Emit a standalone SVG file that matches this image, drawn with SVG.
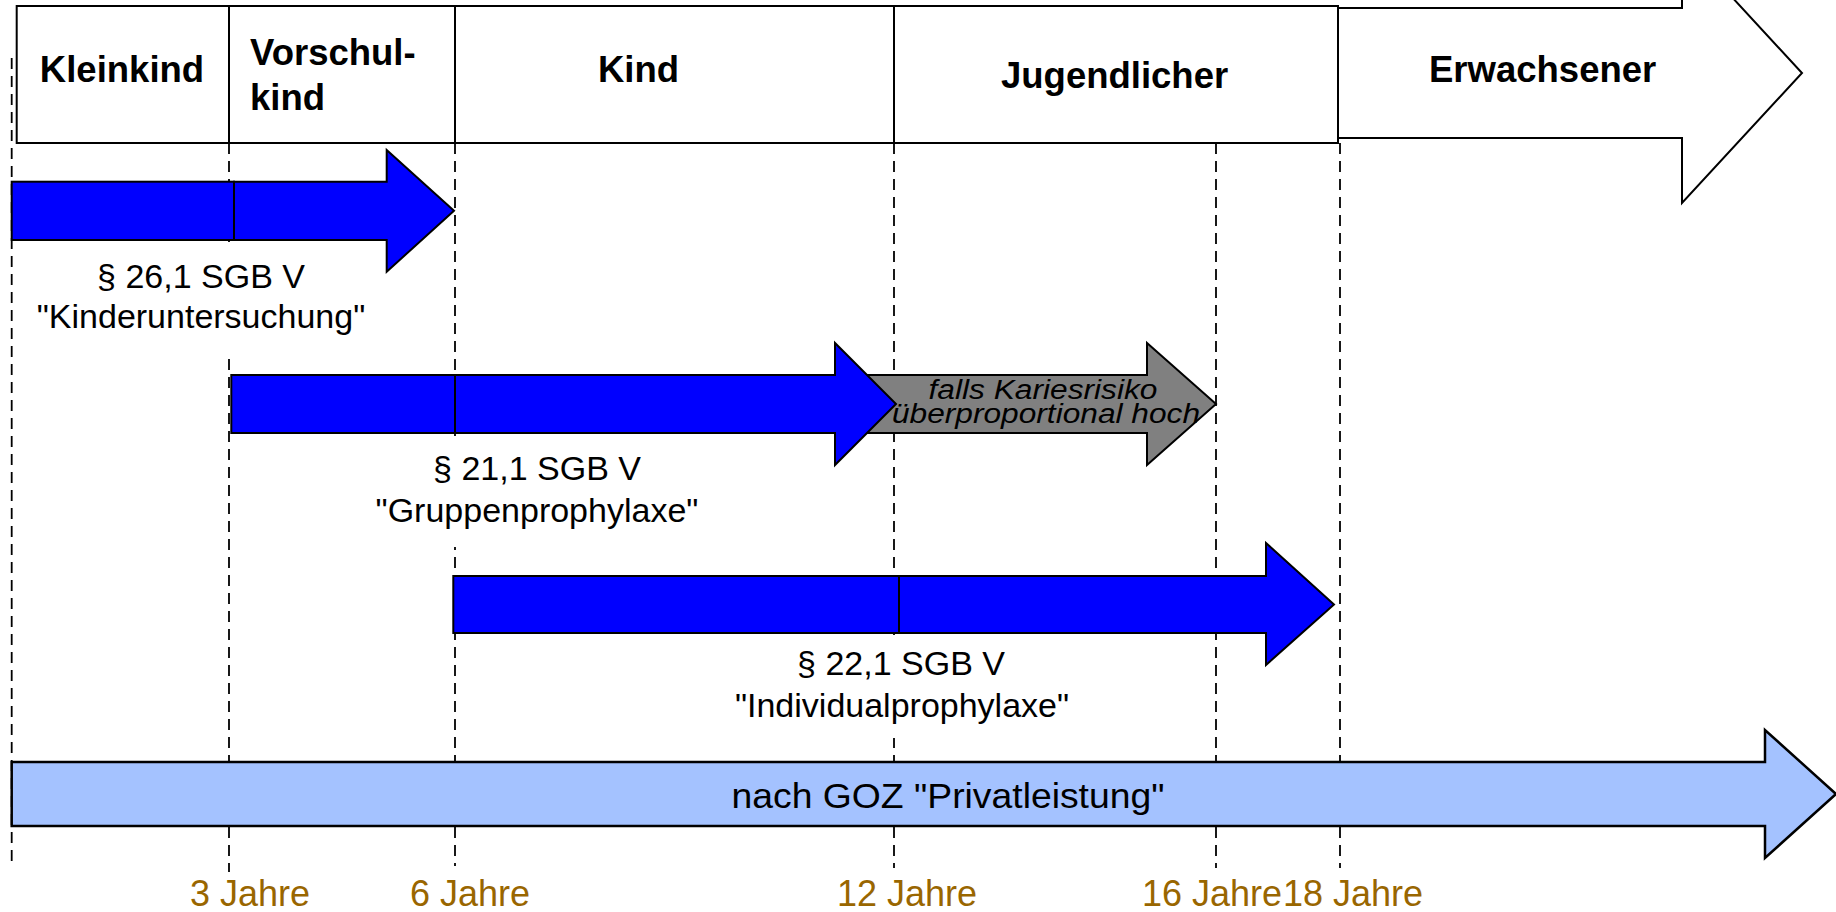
<svg xmlns="http://www.w3.org/2000/svg" width="1836" height="912" viewBox="0 0 1836 912">
<style>
.dash{stroke:#000;stroke-width:1.8;stroke-dasharray:11 7;fill:none}
.box{fill:#fff;stroke:#000;stroke-width:2}
.bg{fill:#fff;stroke:none}
.blue{fill:#0000ff;stroke:#000;stroke-width:2}
.grey{fill:#808080;stroke:#000;stroke-width:2}
.light{fill:#a4c2ff;stroke:#000;stroke-width:2.5}
.hd{font-family:"Liberation Sans",Arial,sans-serif;font-weight:bold;font-size:36.5px;fill:#000}
.lbl{font-family:"Liberation Sans",Arial,sans-serif;font-size:34px;fill:#000;text-anchor:middle}
.it{font-family:"Liberation Sans",Arial,sans-serif;font-style:italic;font-size:27px;fill:#000;text-anchor:middle}
.yr{font-family:"Liberation Sans",Arial,sans-serif;font-size:36px;fill:#996600}
</style>
<rect width="1836" height="912" fill="#fff"/>
<g id="guides">
<line class="dash" x1="11.7" y1="58" x2="11.7" y2="868"/>
<line class="dash" x1="229" y1="143" x2="229" y2="872"/>
<line class="dash" x1="455" y1="143" x2="455" y2="866"/>
<line class="dash" x1="894" y1="143" x2="894" y2="868"/>
<line class="dash" x1="1216" y1="143" x2="1216" y2="868"/>
<line class="dash" x1="1340" y1="143" x2="1340" y2="868"/>
</g>
<g id="erwachsener">
<polygon class="box" points="1338,8 1682,8 1682,-57 1802,73 1682,203 1682,138 1338,138"/>
<text class="hd" x="1429" y="82">Erwachsener</text>
</g>
<g id="header">
<rect class="box" x="16.7" y="6" width="1321.3" height="137"/>
<line x1="229" y1="6" x2="229" y2="143" stroke="#000" stroke-width="2"/>
<line x1="455" y1="6" x2="455" y2="143" stroke="#000" stroke-width="2"/>
<line x1="894" y1="6" x2="894" y2="143" stroke="#000" stroke-width="2"/>
<text class="hd" x="122" y="82" text-anchor="middle">Kleinkind</text>
<text class="hd" x="250" y="65">Vorschul-</text>
<text class="hd" x="250" y="110">kind</text>
<text class="hd" x="598" y="82">Kind</text>
<text class="hd" x="1001" y="88">Jugendlicher</text>
</g>
<g id="kariesrisiko">
<polygon class="grey" points="860,375 1147,375 1147,343 1216,404 1147,465 1147,433 860,433"/>
<text class="it" x="1043" y="399" textLength="229" lengthAdjust="spacingAndGlyphs">falls Kariesrisiko</text>
<text class="it" x="1046" y="423" textLength="308" lengthAdjust="spacingAndGlyphs">überproportional hoch</text>
</g>
<g id="kinderuntersuchung">
<rect class="bg" x="30" y="242" width="342" height="110"/>
<rect class="blue" x="11.7" y="181.7" width="222.3" height="58.3"/>
<polygon class="blue" points="234,181.7 386.7,181.7 386.7,150 454,210.8 386.7,271.7 386.7,240 234,240"/>
<text class="lbl" x="201" y="288">§ 26,1 SGB V</text>
<text class="lbl" x="201" y="328">"Kinderuntersuchung"</text>
</g>
<g id="gruppenprophylaxe">
<rect class="bg" x="365" y="436" width="345" height="111"/>
<rect class="blue" x="231.3" y="375" width="223.7" height="58"/>
<polygon class="blue" points="455,375 835,375 835,343 896,404 835,465 835,433 455,433"/>
<text class="lbl" x="537" y="480">§ 21,1 SGB V</text>
<text class="lbl" x="537" y="522">"Gruppenprophylaxe"</text>
</g>
<g id="individualprophylaxe">
<rect class="bg" x="725" y="635" width="355" height="103"/>
<rect class="blue" x="453.3" y="576" width="445.7" height="57"/>
<polygon class="blue" points="899,576 1266,576 1266,543 1334,604.5 1266,665 1266,633 899,633"/>
<text class="lbl" x="901" y="675">§ 22,1 SGB V</text>
<text class="lbl" x="902" y="717">"Individualprophylaxe"</text>
</g>
<g id="privatleistung">
<polygon class="light" points="11.7,762 1765,762 1765,730 1836,794 1765,858 1765,826 11.7,826"/>
<text class="lbl" x="948" y="808" style="font-size:35px" textLength="433" lengthAdjust="spacingAndGlyphs">nach GOZ "Privatleistung"</text>
</g>
<g id="years">
<text class="yr" x="190" y="906">3 Jahre</text>
<text class="yr" x="410" y="906">6 Jahre</text>
<text class="yr" x="837" y="906">12 Jahre</text>
<text class="yr" x="1142" y="906">16 Jahre</text>
<text class="yr" x="1283" y="906">18 Jahre</text>
</g>
</svg>
